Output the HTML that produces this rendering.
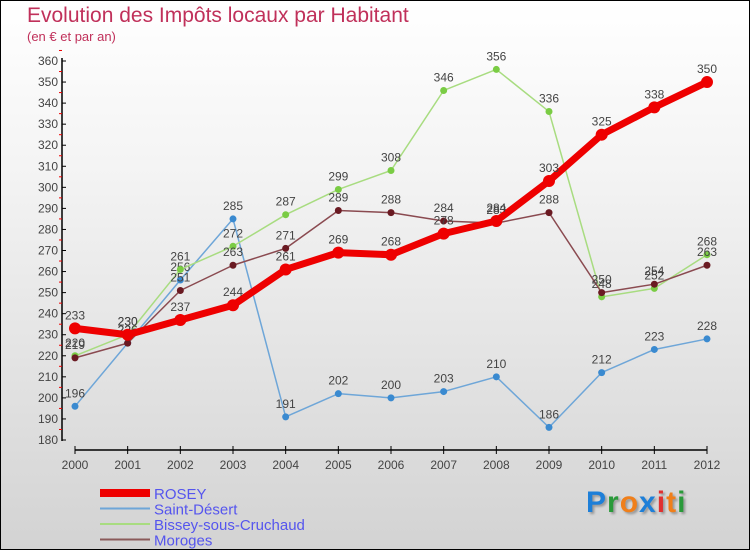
<!DOCTYPE html>
<html><head><meta charset="utf-8"><style>
body{margin:0}
#wrap{position:relative;width:748px;height:548px;border:1px solid #000;background:linear-gradient(#ffffff,#f4f4f4 30%,#d3d3d3);font-family:"Liberation Sans",sans-serif;overflow:hidden}
.t{position:absolute;color:#c0305a}
</style></head><body>
<div id="wrap">
<div class="t" style="left:26px;top:3px;font-size:21px">Evolution des Impôts locaux par Habitant</div>
<div class="t" style="left:26px;top:28px;font-size:13px">(en € et par an)</div>
<svg id="svg" width="750" height="550" style="position:absolute;left:-1px;top:-1px"></svg>
<div style="position:absolute;left:585px;top:485px;font-size:30px;font-weight:bold;letter-spacing:1px;text-shadow:2px 2px 2px #999"><span style="color:#1e7fd8">P</span><span style="color:#2a9a3a">r</span><span style="color:#f07f1a">o</span><span style="color:#1e7fd8">x</span><span style="color:#e03030">i</span><span style="color:#f07f1a">t</span><span style="color:#2a9a3a">i</span></div>
</div>
<script>
const years=[2000,2001,2002,2003,2004,2005,2006,2007,2008,2009,2010,2011,2012];
const rosey=[233,230,237,244,261,269,268,278,284,303,325,338,350];
const saint=[196,226,256,285,191,202,200,203,210,186,212,223,228];
const bissey=[220,230,261,272,287,299,308,346,356,336,248,252,268];
const moroges=[219,226,251,263,271,289,288,284,283,288,250,254,263];
const yTicks=[180,190,200,210,220,230,240,250,260,270,280,290,300,310,320,330,340,350,360];
const NS="http://www.w3.org/2000/svg";
const svg=document.getElementById('svg');
const X=i=>75+i*(707-75)/12;
const Y=v=>440-(v-180)*(440-61)/180;
function el(t,a,p){const e=document.createElementNS(NS,t);for(const k in a)e.setAttribute(k,a[k]);(p||svg).appendChild(e);return e;}
let ax=el('line',{x1:62,y1:58,x2:62,y2:441,stroke:'#000','stroke-width':1.5});


yTicks.forEach(v=>{
  el('line',{x1:62,x2:66,y1:Y(v),y2:Y(v),stroke:'#000'});
  el('line',{x1:59,x2:62,y1:Y(v+5),y2:Y(v+5),stroke:'#e00'});
  const t=el('text',{x:58,y:Y(v)+4,'text-anchor':'end','font-size':12,fill:'#444','font-family':'Liberation Sans'});
  t.textContent=v;
  
  
});
let xa=el('line',{x1:75,y1:450,x2:707,y2:450,stroke:'#000','stroke-width':1.5});


years.forEach((y,i)=>{
  el('line',{x1:X(i),x2:X(i),y1:446,y2:454,stroke:'#000'});
  const t=el('text',{x:X(i),y:469,'text-anchor':'middle','font-size':12,fill:'#444','font-family':'Liberation Sans'});
  t.textContent=y;
  
  
});
function series(data,color,w,r,dot,name){
  const g=el('g',{});
  
  
  el('polyline',{points:data.map((v,i)=>X(i)+','+Y(v)).join(' '),fill:'none',stroke:color,'stroke-width':w,'stroke-linejoin':'round'},g);
  data.forEach((v,i)=>{
    const c=el('circle',{cx:X(i),cy:Y(v),r:r,fill:dot},g);
    
    
    const t=el('text',{x:X(i),y:Y(v)-9,'text-anchor':'middle','font-size':12,fill:'#444','font-family':'Liberation Sans'},g);
    t.textContent=v;
  });
}
series(saint,'#6ea6d8',1.5,3.5,'#3a8ad0','saint-desert-series');
series(bissey,'#a8dc80',1.5,3.5,'#7acc44','bissey-series');
series(moroges,'#8a4a50',1.5,3.5,'#6a1a22','moroges-series');
series(rosey,'#ee0000',7,6,'#ee0000','rosey-series');
const leg=[['ROSEY','#ee0000',8],['Saint-Désert','#6ea6d8',2],['Bissey-sous-Cruchaud','#a8dc80',2],['Moroges','#8a5a5a',2]];
leg.forEach((l,i)=>{
  const y=493+i*15.5;
  const g=el('g',{});
  
  
  el('line',{x1:100,x2:150,y1:y,y2:y,stroke:l[1],'stroke-width':l[2]},g);
  const t=el('text',{x:154,y:y+6,'font-size':15,fill:'#5555ee','font-family':'Liberation Sans'},g);
  t.textContent=l[0];
});
</script>
</body></html>
